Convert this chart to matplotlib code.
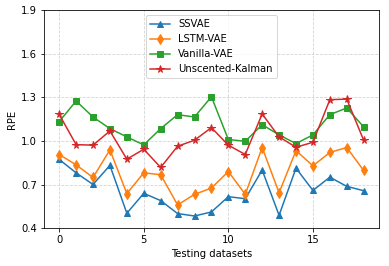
import matplotlib
matplotlib.use('Agg')
import matplotlib.pyplot as plt

x = list(range(19))
ssvae = [0.873, 0.781, 0.701, 0.832, 0.503, 0.640, 0.590, 0.501, 0.484, 0.512,
         0.617, 0.603, 0.800, 0.489, 0.813, 0.660, 0.751, 0.688, 0.658]
lstm_vae = [0.907, 0.836, 0.749, 0.939, 0.638, 0.781, 0.768, 0.560, 0.633, 0.676,
            0.790, 0.633, 0.955, 0.644, 0.934, 0.829, 0.921, 0.955, 0.797]
vanilla_vae = [1.133, 1.275, 1.165, 1.085, 1.028, 0.973, 1.085, 1.181, 1.165, 1.304,
               1.010, 0.998, 1.112, 1.042, 0.982, 1.042, 1.181, 1.227, 1.097]
unscented_kalman = [1.183, 0.975, 0.971, 1.069, 0.875, 0.943, 0.818, 0.964, 1.005, 1.092,
                    0.971, 0.907, 1.186, 1.028, 0.957, 0.991, 1.284, 1.288, 1.005]

fig, ax = plt.subplots(figsize=(389 / 72, 266 / 72), dpi=72)
ax.plot(x, ssvae, marker='^', markersize=6.5, label='SSVAE')
ax.plot(x, lstm_vae, marker='d', markersize=7, label='LSTM-VAE')
ax.plot(x, vanilla_vae, marker='s', markersize=6.5, label='Vanilla-VAE')
ax.plot(x, unscented_kalman, marker='*', markersize=7.5, label='Unscented-Kalman')

ax.set_ylim(0.4, 1.9)
ax.set_yticks([0.4, 0.7, 1.0, 1.3, 1.6, 1.9])
ax.set_xticks([0, 5, 10, 15])
ax.set_xlabel('Testing datasets')
ax.set_ylabel('RPE')
ax.grid(True, linestyle='--', color='lightgray')
ax.legend(loc='upper center')

plt.subplots_adjust(left=0.113, right=0.974, top=0.962, bottom=0.142)
plt.savefig('out.png', dpi=72)
